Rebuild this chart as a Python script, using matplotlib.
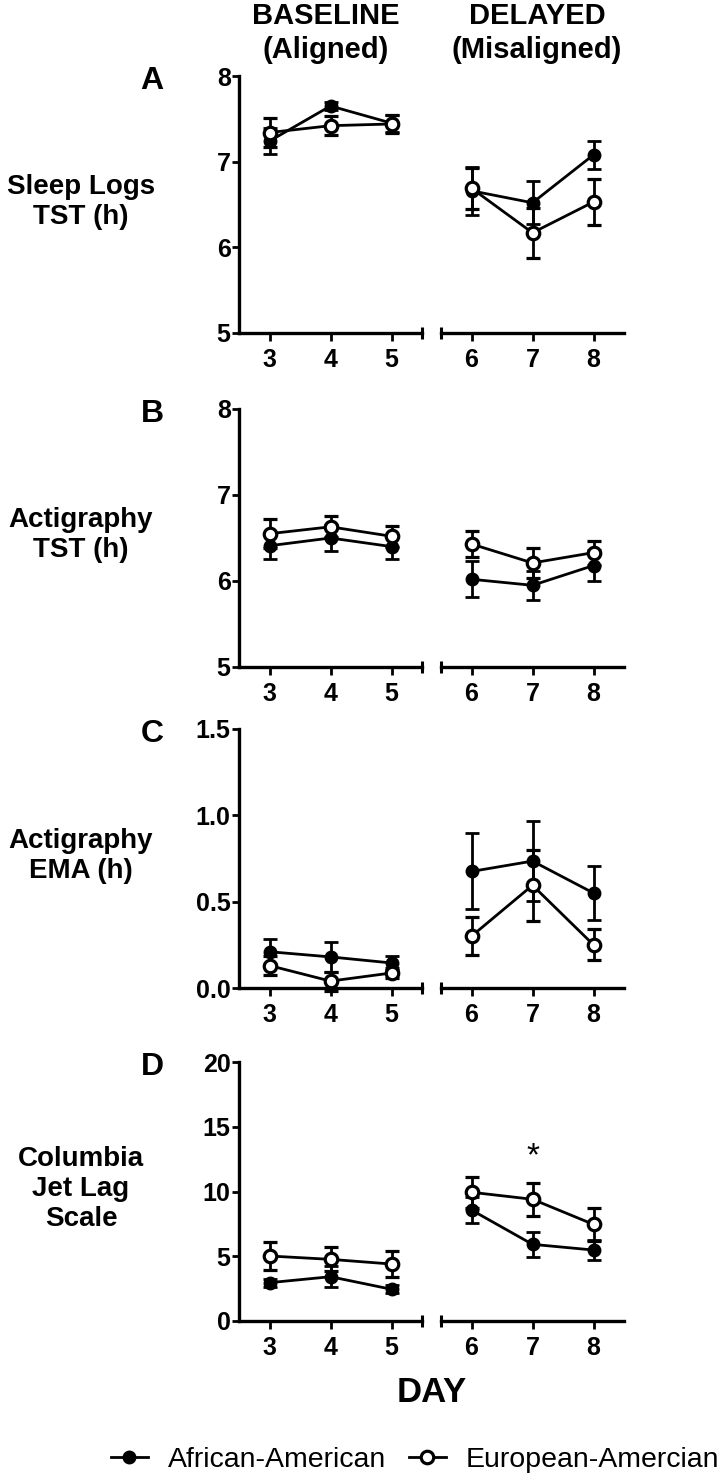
import matplotlib
matplotlib.use("Agg")
import matplotlib.pyplot as plt
from matplotlib.lines import Line2D

plt.rcParams['font.family'] = ['Liberation Sans', 'DejaVu Sans']

# ---------------- data ----------------
days_base = [3, 4, 5]
days_delay = [6, 7, 8]
days = days_base + days_delay

panel_letters = ["A", "B", "C", "D"]
panel_ylabels = ["Sleep Logs\nTST (h)", "Actigraphy\nTST (h)",
                 "Actigraphy\nEMA (h)", "Columbia\nJet Lag\nScale"]
panel_ylims = [(5, 8), (5, 8), (0, 1.5), (0, 20)]
panel_yticks = [[5, 6, 7, 8], [5, 6, 7, 8], [0.0, 0.5, 1.0, 1.5], [0, 5, 10, 15, 20]]
panel_yticklabels = [["5", "6", "7", "8"], ["5", "6", "7", "8"],
                     ["0.0", "0.5", "1.0", "1.5"], ["0", "5", "10", "15", "20"]]

# African-American (filled)
aa_sleep = [7.24, 7.65, 7.45, 6.66, 6.52, 7.08]
aa_sleep_err = [0.15, 0.05, 0.10, 0.28, 0.25, 0.16]
aa_acti = [6.41, 6.50, 6.40, 6.02, 5.95, 6.18]
aa_acti_err = [0.15, 0.15, 0.14, 0.21, 0.17, 0.18]
aa_ema = [0.21, 0.18, 0.145, 0.675, 0.735, 0.55]
aa_ema_err = [0.072, 0.087, 0.04, 0.22, 0.23, 0.155]
aa_jetlag = [2.96, 3.42, 2.45, 8.57, 5.92, 5.48]
aa_jetlag_err = [0.3, 0.8, 0.3, 1.03, 0.95, 0.77]

# European-American (open)
ea_sleep = [7.34, 7.42, 7.44, 6.69, 6.17, 6.53]
ea_sleep_err = [0.17, 0.11, 0.11, 0.24, 0.29, 0.27]
ea_acti = [6.55, 6.63, 6.52, 6.43, 6.21, 6.33]
ea_acti_err = [0.17, 0.12, 0.12, 0.15, 0.17, 0.14]
ea_ema = [0.13, 0.04, 0.087, 0.30, 0.595, 0.25]
ea_ema_err = [0.057, 0.055, 0.03, 0.11, 0.205, 0.09]
ea_jetlag = [5.02, 4.76, 4.40, 9.94, 9.40, 7.46]
ea_jetlag_err = [1.07, 0.93, 0.97, 1.2, 1.29, 1.3]

aa_all = [(aa_sleep, aa_sleep_err), (aa_acti, aa_acti_err),
          (aa_ema, aa_ema_err), (aa_jetlag, aa_jetlag_err)]
ea_all = [(ea_sleep, ea_sleep_err), (ea_acti, ea_acti_err),
          (ea_ema, ea_ema_err), (ea_jetlag, ea_jetlag_err)]

star_day = 7
star_value = 12.7

# ---------------- layout ----------------
W, H = 722, 1479
fig = plt.figure(figsize=(W / 100, H / 100), dpi=100)

def fx(px):
    return px / W

def fy(py):
    return 1 - py / H

panel_pix = [(76, 333), (409, 667), (729, 988), (1062, 1321)]
left_x0, left_x1 = 239, 422
right_x0, right_x1 = 441, 624

AXLW = 2.4
LW = 2.0
MS = 8
CAP = 4.7

def style_axis(ax, ylim, yticks, yticklabels, show_y):
    ax.set_ylim(*ylim)
    for s in ['top', 'right']:
        ax.spines[s].set_visible(False)
    ax.spines['bottom'].set_linewidth(AXLW)
    ax.spines['left'].set_linewidth(AXLW)
    ax.set_xticks([])
    if show_y:
        ax.set_yticks(yticks)
        ax.set_yticklabels(yticklabels)
        ax.tick_params(axis='y', direction='out', length=5, width=2,
                       labelsize=18, pad=1)
        for t in ax.get_yticklabels():
            t.set_fontweight('bold')
    else:
        ax.spines['left'].set_visible(False)
        ax.set_yticks([])
    ax.patch.set_alpha(0)

for i in range(4):
    top, bot = panel_pix[i]
    axL = fig.add_axes([fx(left_x0), fy(bot), fx(left_x1 - left_x0), (bot - top) / H])
    axR = fig.add_axes([fx(right_x0), fy(bot), fx(right_x1 - right_x0), (bot - top) / H])
    axL.set_xlim(2.5, 5.5)
    axR.set_xlim(5.5, 8.5)
    style_axis(axL, panel_ylims[i], panel_yticks[i], panel_yticklabels[i], True)
    style_axis(axR, panel_ylims[i], panel_yticks[i], panel_yticklabels[i], False)

    for ax, dd, sl in [(axL, days_base, slice(0, 3)), (axR, days_delay, slice(3, 6))]:
        ax.set_xticks(dd)
        ax.set_xticklabels([str(d) for d in dd])
        ax.tick_params(axis='x', direction='out', length=6, width=2,
                       labelsize=18, pad=5)
        for t in ax.get_xticklabels():
            t.set_fontweight('bold')
        m, e = aa_all[i]
        ax.errorbar(dd, m[sl], yerr=e[sl], fmt='-o', color='k', mfc='k', mec='k',
                    ms=MS, mew=LW, lw=LW, elinewidth=LW, capsize=CAP, capthick=LW,
                    clip_on=False, zorder=3)
        m, e = ea_all[i]
        ax.errorbar(dd, m[sl], yerr=e[sl], fmt='-o', color='k', mfc='white', mec='k',
                    ms=MS + 1, mew=LW + 0.3, lw=LW, elinewidth=LW, capsize=CAP, capthick=LW,
                    clip_on=False, zorder=4)
    # break marks
    ymin = panel_ylims[i][0]
    axL.plot([5.5], [ymin], marker='|', ms=8, mew=2.2, color='k', clip_on=False, zorder=5)
    axR.plot([5.5], [ymin], marker='|', ms=8, mew=2.2, color='k', clip_on=False, zorder=5)

    if i == 3:
        axR.text(star_day, star_value, "*", ha='center', va='center', fontsize=24)

    # panel letter and y label
    fig.text(fx(152), fy(top + 5), panel_letters[i], ha='center', va='center',
             fontsize=23, fontweight='bold')
    fig.text(fx(81), fy((top + bot) / 2 - 3), panel_ylabels[i], ha='center', va='center',
             fontsize=20, fontweight='bold', linespacing=1.2)

# column headers
fig.text(fx(326), fy(33), "BASELINE\n(Aligned)", ha='center', va='center',
         fontsize=21, fontweight='bold', linespacing=1.3)
fig.text(fx(537), fy(33), "DELAYED\n(Misaligned)", ha='center', va='center',
         fontsize=21, fontweight='bold', linespacing=1.3)

# x label
fig.text(fx(432), fy(1393), "DAY", ha='center', va='center', fontsize=25, fontweight='bold')

# legend
h1 = Line2D([], [], color='k', lw=LW, marker='o', ms=MS, mfc='k', mec='k', mew=LW)
h2 = Line2D([], [], color='k', lw=LW, marker='o', ms=MS + 1, mfc='white', mec='k', mew=LW + 0.3)
fig.legend([h1, h2], ["African-American", "European-Amercian"], loc='center',
           bbox_to_anchor=(fx(415), fy(1460)), ncol=2, frameon=False, fontsize=20.5,
           handlelength=1.3, handletextpad=0.7, columnspacing=0.8, borderpad=0)

fig.savefig("out.png", dpi=100)
